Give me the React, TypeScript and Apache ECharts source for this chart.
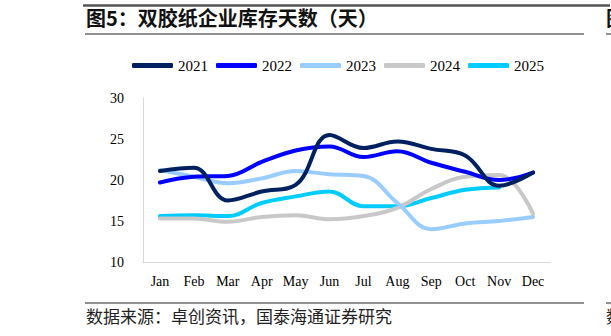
import React, { useEffect, useRef } from "react";
import * as echarts from "echarts";

const months = ["Jan", "Feb", "Mar", "Apr", "May", "Jun", "Jul", "Aug", "Sep", "Oct", "Nov", "Dec"];
const yearNames = ["2021", "2022", "2023", "2024", "2025"];
const colors = ["#002060", "#0000FF", "#99CCFF", "#C8C8C8", "#00CCFF"];

const d2021 = [21.1, 21.5, 17.5, 18.6, 19.4, 25.5, 23.9, 24.7, 23.8, 23.0, 19.3, 20.9];
const d2022 = [19.7, 20.4, 20.5, 22.2, 23.6, 24.1, 22.8, 23.5, 22.1, 21.0, 20.0, 20.9];
const d2023 = [21.2, 20.4, 19.6, 20.2, 21.1, 20.7, 20.5, 17.2, 14.0, 14.7, 15.0, 15.5];
const d2024 = [15.3, 15.3, 14.9, 15.5, 15.7, 15.2, 15.6, 16.6, 18.9, 20.4, 20.6, 15.9];
const d2025 = [15.6, 15.7, 15.6, 17.2, 18.0, 18.6, 16.8, 16.8, 17.8, 18.8, 19.1];
const yTicks = { min: 10, max: 30, interval: 5 };

const seriesData = [d2021, d2022, d2023, d2024, d2025];

const titleText = "图5：双胶纸企业库存天数（天）";
const sourceText = "数据来源：卓创资讯，国泰海通证券研究";

const serif = "'Liberation Serif', 'Times New Roman', serif";
const cjk = "'Noto Sans CJK SC', sans-serif";

export default function App() {
  const ref = useRef<HTMLDivElement>(null);

  useEffect(() => {
    if (!ref.current) return;
    const chart = echarts.init(ref.current, null, { renderer: "svg" });
    chart.setOption({
      animation: false,
      backgroundColor: "#ffffff",
      grid: { left: 143, right: 61, top: 98, bottom: 74, containLabel: false },
      legend: {
        left: 127,
        top: 53,
        itemWidth: 41,
        itemHeight: 5,
        itemGap: 8,
        icon: "roundRect",
        textStyle: { fontFamily: serif, fontSize: 15, color: "#000" },
        data: yearNames,
      },
      xAxis: {
        type: "category",
        data: months,
        boundaryGap: true,
        axisLine: { show: true, lineStyle: { color: "#D9D9D9", width: 1 } },
        axisTick: { show: false },
        axisLabel: { fontFamily: serif, fontSize: 14, color: "#000", margin: 12 },
        splitLine: { show: false },
      },
      yAxis: {
        type: "value",
        min: yTicks.min,
        max: yTicks.max,
        interval: yTicks.interval,
        axisLine: { show: true, lineStyle: { color: "#D9D9D9", width: 1 } },
        axisTick: { show: false },
        axisLabel: { fontFamily: serif, fontSize: 14, color: "#000", margin: 19 },
        splitLine: { show: false },
      },
      series: yearNames.map((name, i) => ({
        name,
        type: "line",
        data: seriesData[i],
        smooth: 0.4,
        symbol: "none",
        color: colors[i],
        lineStyle: { width: 4, color: colors[i], cap: "round" },
        z: 10 - i,
      })),
      graphic: [
        { type: "line", shape: { x1: 83, y1: 5.5, x2: 610, y2: 5.5 }, style: { stroke: "#555", lineWidth: 2.5 } },
        {
          type: "text",
          left: 86,
          top: 7,
          style: { text: titleText, font: `bold 20px ${cjk}`, fill: "#111" },
        },
        { type: "line", shape: { x1: 85, y1: 34, x2: 584, y2: 34 }, style: { stroke: "#222", lineWidth: 1 } },
        { type: "line", shape: { x1: 606, y1: 34, x2: 611, y2: 34 }, style: { stroke: "#222", lineWidth: 1 } },
        {
          type: "text",
          x: 606,
          y: 7,
          style: { text: "图", font: `bold 20px ${cjk}`, fill: "#111" },
        },
        { type: "line", shape: { x1: 85, y1: 303, x2: 584, y2: 303 }, style: { stroke: "#222", lineWidth: 1 } },
        { type: "line", shape: { x1: 606, y1: 303, x2: 611, y2: 303 }, style: { stroke: "#222", lineWidth: 1 } },
        {
          type: "text",
          left: 86,
          top: 307,
          style: { text: sourceText, font: `17px ${cjk}`, fill: "#222" },
        },
        {
          type: "text",
          x: 606,
          y: 307,
          style: { text: "数", font: `17px ${cjk}`, fill: "#222" },
        },
      ],
    });
    return () => chart.dispose();
  }, []);

  return (
    <div
      ref={ref}
      style={{ position: "fixed", left: 0, top: 0, width: 611, height: 336, background: "#fff" }}
    />
  );
}
